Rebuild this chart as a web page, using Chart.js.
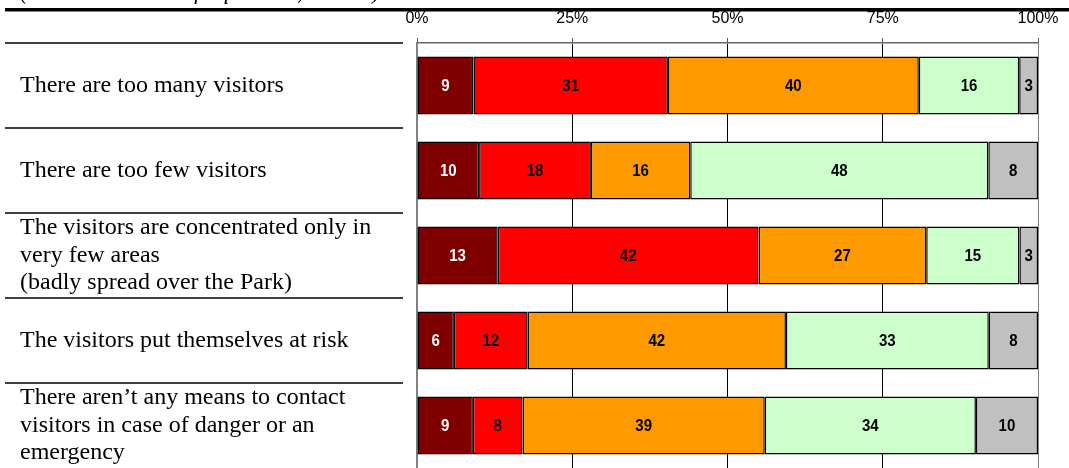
<!DOCTYPE html>
<html>
<head>
<meta charset="utf-8">
<script src="https://cdn.jsdelivr.net/npm/chart.js@4/dist/chart.umd.min.js"></script>
<style>
  html, body { margin: 0; padding: 0; background: #fff; }
  #wrap { width: 1069px; height: 468px; position: relative; }
</style>
</head>
<body>
<div id="wrap"><canvas id="c" width="1069" height="468"></canvas></div>
<script>
// Statements rated by respondents (one row each)
const statements = [
  ['There are too many visitors'],
  ['There are too few visitors'],
  ['The visitors are concentrated only in', 'very few areas', '(badly spread over the Park)'],
  ['The visitors put themselves at risk'],
  ['There aren’t any means to contact', 'visitors in case of danger or an', 'emergency']
];

// Frequencies per answer category, one value per statement
const answerA = [9, 10, 13, 6, 9];
const answerB = [31, 18, 42, 12, 8];
const answerC = [40, 16, 27, 42, 39];
const answerD = [16, 48, 15, 33, 34];
const answerE = [3, 8, 3, 8, 10];

const seriesNames = ['A', 'B', 'C', 'D', 'E'];
const seriesColors = ['#800000', '#FF0000', '#FF9900', '#CCFFCC', '#C0C0C0'];
const labelColors = ['#FFFFFF', '#000000', '#000000', '#000000', '#000000'];

const percentTicks = [0, 25, 50, 75, 100];
const caption = '(values in bars are frequencies, N = 97)';

const allSeries = [answerA, answerB, answerC, answerD, answerE];
const rowTotals = statements.map((_, i) => allSeries.reduce((s, arr) => s + arr[i], 0));

const datasets = allSeries.map((arr, k) => ({
  label: seriesNames[k],
  data: arr.map((v, i) => v / rowTotals[i] * 100),
  raw: arr,
  backgroundColor: seriesColors[k],
  borderColor: '#000000',
  borderWidth: 1.5,
  borderSkipped: false,
  categoryPercentage: 1.0,
  barPercentage: 0.68
}));

// Caption, heavy rule and row separators on the label side
const decorations = {
  id: 'decorations',
  afterDraw(chart) {
    const ctx = chart.ctx;
    const y = chart.scales.y;
    ctx.save();
    ctx.fillStyle = '#000';
    ctx.font = 'italic 22.5px "Liberation Serif", "Times New Roman", serif';
    ctx.textBaseline = 'alphabetic';
    ctx.textAlign = 'left';
    ctx.fillText(caption, 20, -1);
    ctx.fillRect(5, 8, 1064, 3.5);

    ctx.strokeStyle = '#000';
    ctx.lineWidth = 1.5;
    const half = (y.getPixelForValue(1) - y.getPixelForValue(0)) / 2;
    statements.forEach((_, i) => {
      const py = y.getPixelForValue(i) - half;
      ctx.beginPath();
      ctx.moveTo(5, py);
      ctx.lineTo(403, py);
      ctx.stroke();
    });
    ctx.restore();
  }
};

// Frequency labels centred in each segment
const valueLabels = {
  id: 'valueLabels',
  afterDatasetsDraw(chart) {
    const ctx = chart.ctx;
    ctx.save();
    ctx.textAlign = 'center';
    ctx.textBaseline = 'middle';
    ctx.font = 'bold 16px "Liberation Sans", Arial, sans-serif';
    chart.data.datasets.forEach((ds, k) => {
      const meta = chart.getDatasetMeta(k);
      meta.data.forEach((bar, i) => {
        const cx = (bar.x + bar.base) / 2;
        ctx.fillStyle = labelColors[k];
        ctx.save();
        ctx.translate(cx, bar.y + 1);
        ctx.scale(0.94, 1);
        ctx.fillText(String(ds.raw[i]), 0, 0);
        ctx.restore();
      });
    });
    ctx.restore();
  }
};

new Chart(document.getElementById('c'), {
  type: 'bar',
  data: { labels: statements, datasets },
  options: {
    indexAxis: 'y',
    responsive: false,
    animation: false,
    layout: { padding: { left: 20, right: 31, top: 0, bottom: 0 } },
    plugins: { legend: { display: false }, tooltip: { enabled: false }, title: { display: false } },
    scales: {
      x: {
        position: 'top',
        stacked: true,
        min: 0,
        max: 100,
        afterBuildTicks(scale) {
          scale.ticks = percentTicks.map(v => ({ value: v }));
        },
        afterFit(scale) { scale.height = 43; },
        ticks: {
          padding: 10,
          color: '#000',
          font: { family: '"Liberation Sans", Arial, sans-serif', size: 16 },
          callback: v => v + '%',
          maxRotation: 0
        },
        grid: {
          color: c => (c.index === 0 || c.index === percentTicks.length - 1) ? '#808080' : '#000000',
          lineWidth: 1,
          tickLength: 5,
          tickColor: '#555'
        },
        border: { display: true, color: '#666', width: 1.5 }
      },
      y: {
        stacked: true,
        afterFit(scale) {
          scale.width = 397;
          scale.paddingTop = 0;
          scale.paddingBottom = 0;
        },
        ticks: {
          crossAlign: 'far',
          autoSkip: false,
          color: '#000',
          font: { family: '"Liberation Serif", "Times New Roman", serif', size: 24, lineHeight: 1.15 }
        },
        grid: { display: false },
        border: { display: true, color: '#808080', width: 1.5 }
      }
    }
  },
  plugins: [decorations, valueLabels]
});
</script>
</body>
</html>
